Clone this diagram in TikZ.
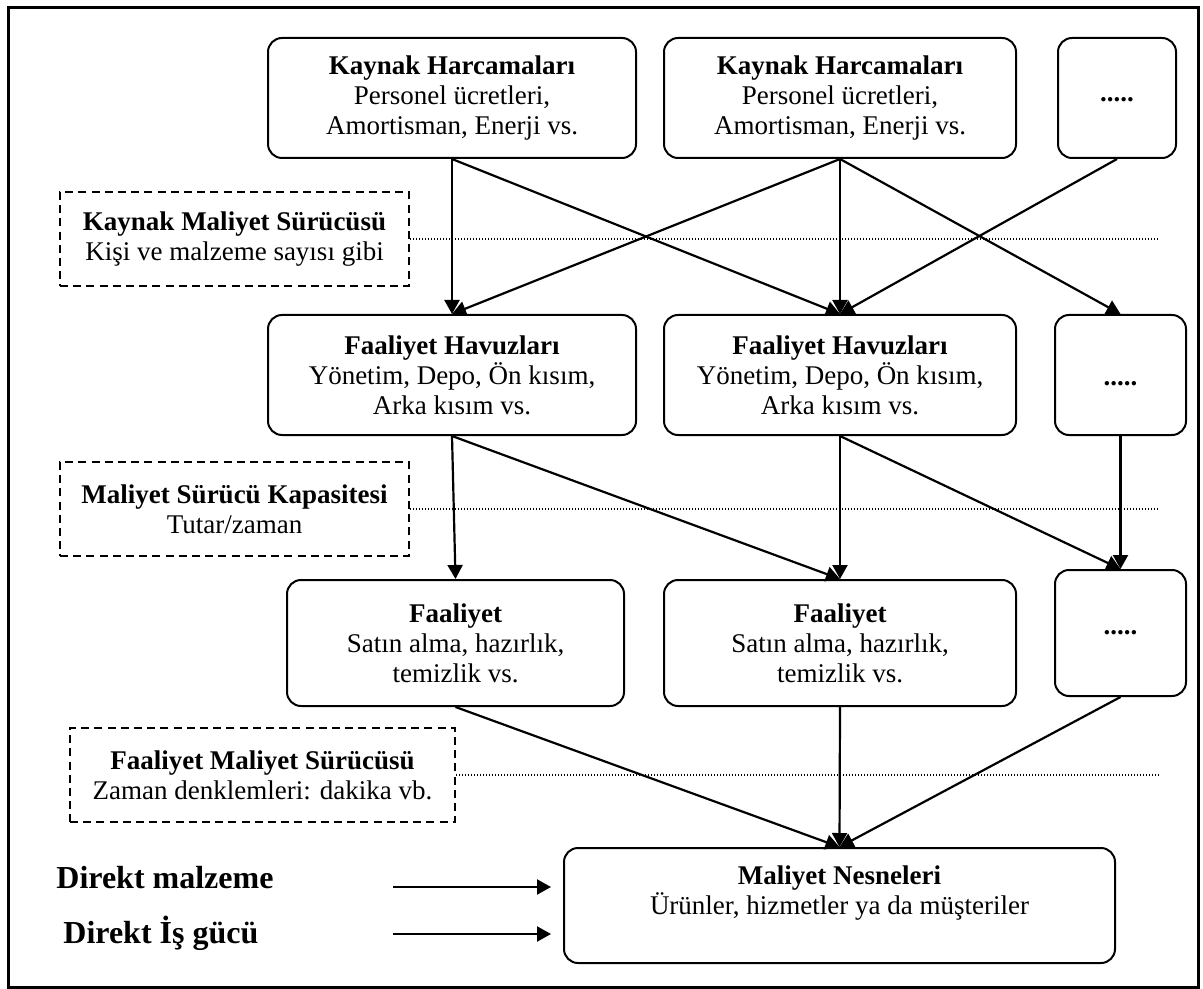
\documentclass[tikz,border=0pt]{standalone}
\usepackage{fontspec}
\setmainfont{Liberation Serif}
\usetikzlibrary{arrows.meta,positioning}

\begin{document}
\begin{tikzpicture}[x=0.5pt,y=-0.5pt,
  box/.style={rectangle, rounded corners=7pt, draw=black, line width=1pt, align=center, inner sep=0pt, font=\fontsize{13.5}{15}\selectfont},
  drv/.style={rectangle, draw=black, dash pattern=on 4pt off 2.6pt, line width=1pt, align=center, inner sep=0pt, font=\fontsize{13.5}{15}\selectfont},
  direkt/.style={anchor=base west, inner sep=0pt, font=\fontsize{16}{19}\selectfont\bfseries},
  arr/.style={-{Triangle[length=7pt,width=7.5pt]}, line width=1.1pt},
  guide/.style={line width=0.6pt, dash pattern=on 0.6pt off 0.9pt}]
\useasboundingbox (0,0) rectangle (1203,989);
\draw[line width=1.5pt] (8.5,7.5) rectangle (1198.5,987);

\node (kh1) [box, minimum width=184pt, minimum height=60pt] at (452,98) {\textbf{Kaynak Harcamaları}\\Personel ücretleri,\\Amortisman, Enerji vs.};
\node (kh2) [box, minimum width=176pt, minimum height=60pt, right=13pt of kh1] {\textbf{Kaynak Harcamaları}\\Personel ücretleri,\\Amortisman, Enerji vs.};
\node (khdots) [box, minimum width=59pt, minimum height=60pt, right=20pt of kh2] {\raisebox{-4pt}{\textbf{.....}}};

\node (fh1) [box, minimum width=184pt, minimum height=60pt, below=77.5pt of kh1] {\textbf{Faaliyet Havuzları}\\Yönetim, Depo, Ön kısım,\\Arka kısım vs.};
\node (fh2) [box, minimum width=176pt, minimum height=60pt, below=77.5pt of kh2] {\textbf{Faaliyet Havuzları}\\Yönetim, Depo, Ön kısım,\\Arka kısım vs.};
\node (fhdots) [box, minimum width=65.5pt, minimum height=60pt, right=18.5pt of fh2] {\raisebox{-11pt}{\textbf{.....}}};

\node (f1) [box, minimum width=168.5pt, minimum height=63pt] at (455.5,643) {\textbf{Faaliyet}\\Satın alma, hazırlık,\\temizlik vs.};
\node (f2) [box, minimum width=176pt, minimum height=63pt, below=71.5pt of fh2] {\textbf{Faaliyet}\\Satın alma, hazırlık,\\temizlik vs.};
\node (fdots) [box, minimum width=65.5pt, minimum height=63pt] at (1120.5,633) {\raisebox{-2pt}{\textbf{.....}}};

\node (mn) [box, minimum width=275.5pt, minimum height=57.5pt] at (839.5,905.5) {\textbf{Maliyet Nesneleri}\\Ürünler, hizmetler ya da müşteriler\\\mbox{}};

\node (kms) [drv, minimum width=174.5pt, minimum height=47pt] at (234.5,239) {\textbf{Kaynak Maliyet Sürücüsü}\\Kişi ve malzeme sayısı gibi};
\node (msk) [drv, minimum width=174.5pt, minimum height=47pt] at (234.5,509) {\textbf{Maliyet Sürücü Kapasitesi}\\Tutar/zaman};
\node (fms) [drv, minimum width=192.5pt, minimum height=47pt] at (262.5,775) {\textbf{Faaliyet Maliyet Sürücüsü}\\Zaman denklemleri: dakika vb.};

\coordinate (gend) at (1159,0);
\draw[guide] (kms.east) -- (kms.east -| gend);
\draw[guide] (msk.east) -- (msk.east -| gend);
\draw[guide] (fms.east) -- (fms.east -| gend);

\draw[arr] (kh1.south) -- (fh1.north);
\draw[arr] (kh1.south) -- (fh2.north);
\draw[arr] (kh2.south) -- (fh1.north);
\draw[arr] (kh2.south) -- (fh2.north);
\draw[arr] (kh2.south) -- (fhdots.north);
\draw[arr] (khdots.south) -- (fh2.north);

\draw[arr] (fh1.south) -- (f1.north);
\draw[arr] (fh1.south) -- (f2.north);
\draw[arr] (fh2.south) -- (f2.north);
\draw[arr] (fh2.south) -- (fdots.north);
\draw[arr] (fhdots.south) -- (fdots.north);

\draw[arr] (f1.south) -- (mn.north);
\draw[arr] (f2.south) -- (mn.north);
\draw[arr] (fdots.south) -- (mn.north);

\node (dmal) [direkt] at (56,888) {Direkt malzeme};
\node (dis) [direkt] at (63,943) {Direkt İş gücü};
\coordinate (dmal0) at (393,887);
\coordinate (dmal1) at (551,887);
\coordinate (dis0) at (393,934);
\coordinate (dis1) at (551,934);
\draw[arr] (dmal0) -- (dmal1);
\draw[arr] (dis0) -- (dis1);
\end{tikzpicture}
\end{document}
